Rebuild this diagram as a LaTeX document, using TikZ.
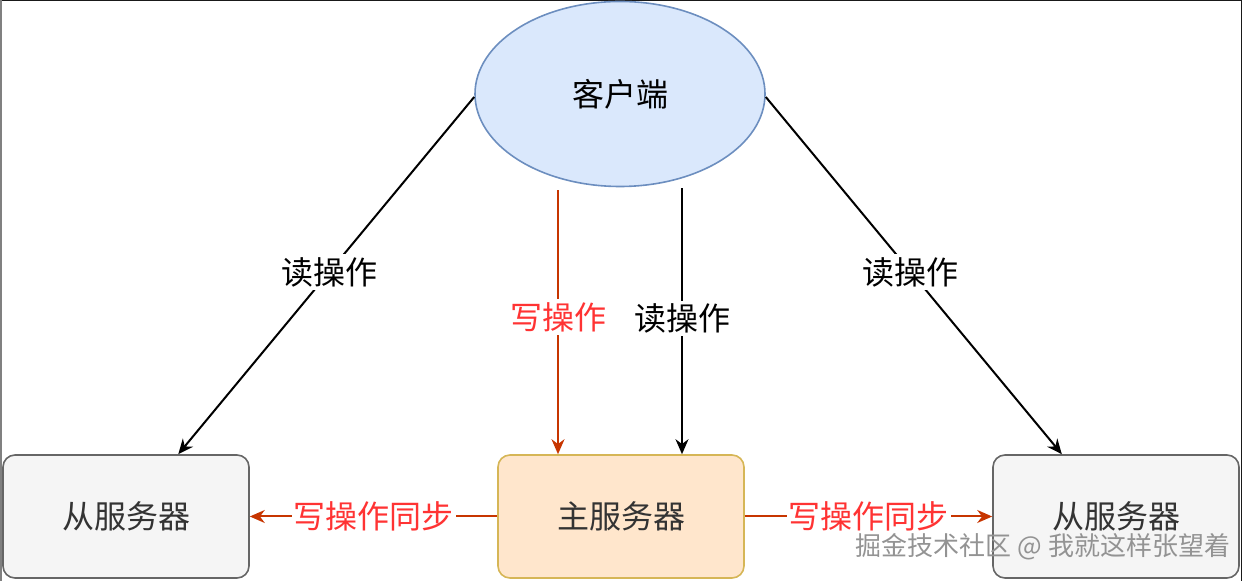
\documentclass[tikz,border=0pt]{standalone}
\usepackage{fontspec}
\setmainfont{Noto Sans CJK SC}
\usetikzlibrary{arrows.meta,shapes.geometric}
\definecolor{clientfill}{HTML}{DAE8FC}
\definecolor{clientline}{HTML}{6C8EBF}
\definecolor{masterfill}{HTML}{FFE6CC}
\definecolor{masterline}{HTML}{D6B656}
\definecolor{slavefill}{HTML}{F5F5F5}
\definecolor{slaveline}{HTML}{666666}
\definecolor{writeline}{HTML}{C73500}
\definecolor{writetext}{HTML}{FF3333}

\tikzset{
  server/.style={draw,line width=0.8pt,rectangle,rounded corners=6pt,minimum width=123pt,minimum height=61.5pt,inner sep=0pt,text=black!80,font=\fontsize{16}{19}\selectfont},
  readarrow/.style={line width=1pt,-{Stealth[length=7.5pt,width=6.5pt]}},
  writearrow/.style={line width=1pt,draw=writeline,-{Stealth[length=7.5pt,width=6.5pt]}},
  oplabel/.style={fill=white,inner sep=1.5pt,font=\fontsize{16}{19}\selectfont},
}

\begin{document}
\begin{tikzpicture}[x=0.5pt,y=-0.5pt]
\useasboundingbox (0,0) rectangle (1242,581);
\draw[line width=1pt,black!90] (0,0.5) -- (1241.5,0.5) -- (1241.5,581);
\draw[line width=1pt,gray] (0.5,0) -- (0.5,581);

\node[draw=clientline,fill=clientfill,line width=0.8pt,ellipse,minimum width=145pt,minimum height=92.5pt,inner sep=0pt,font=\fontsize{16}{19}\selectfont] (client) at (620,94) {客户端};
\node[server,draw=slaveline,fill=slavefill] (slaveL) at (126,516.5) {从服务器};
\node[server,draw=masterline,fill=masterfill] (master) at (621,516.5) {主服务器};
\node[server,draw=slaveline,fill=slavefill] (slaveR) at (1116,516.5) {从服务器};

\draw[readarrow] ([yshift=-1.5pt]client.west) -- node[oplabel,pos=0.49] (readL) {读操作} (slaveL.50);
\draw[readarrow] ([yshift=-1.5pt]client.east) -- node[oplabel,pos=0.49] (readR) {读操作} (slaveR.131);
\draw[writearrow] ([shift={(-62,3)}]client.south) -- node[oplabel,text=writetext,pos=0.48] (write) {写操作} ([shift={(-63,0)}]master.north);
\draw[readarrow] ([shift={(62,1)}]client.south) -- node[oplabel,pos=0.49] (readM) {读操作} ([shift={(61,0)}]master.north);

\draw[writearrow] (master.west) -- node[oplabel,text=writetext,inner sep=1pt] (syncL) {写操作同步} (slaveL.east);
\draw[writearrow] (master.east) -- node[oplabel,text=writetext,inner sep=1pt] (syncR) {写操作同步} (slaveR.west);

\node[text=gray!85,font=\fontsize{13}{15}\selectfont] (mark) at (1043,547) {掘金技术社区 @ 我就这样张望着};
\end{tikzpicture}
\end{document}
